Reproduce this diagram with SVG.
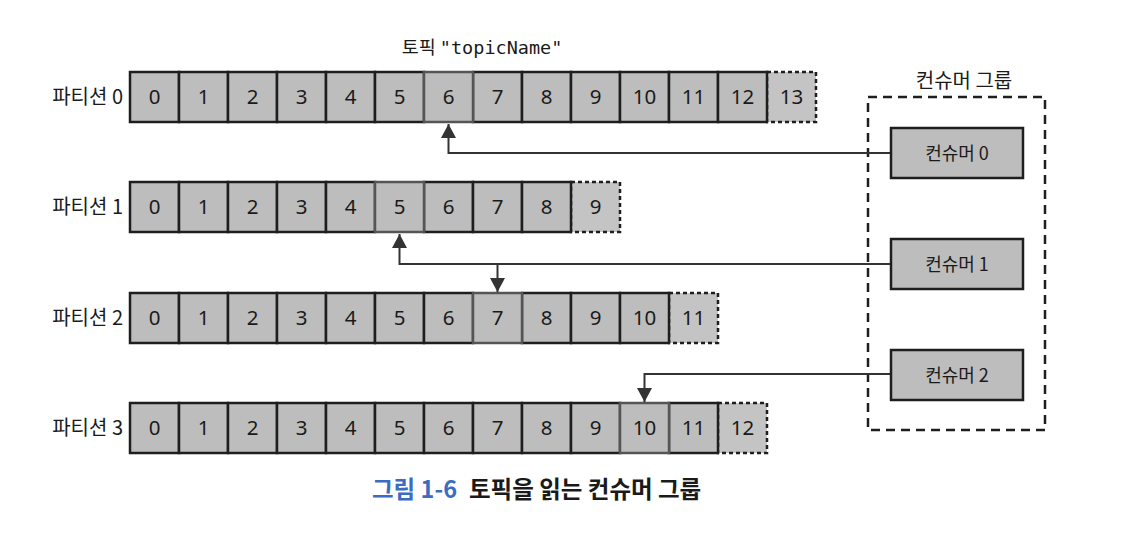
<svg xmlns="http://www.w3.org/2000/svg" width="1122" height="538" viewBox="0 0 1122 538">
<defs>
<style>
.cell{fill:#bdbdbd;stroke:#1e1e1e;stroke-width:2.5}
.hl{fill:#bdbdbd;stroke:#555;stroke-width:2.5}
.next{fill:#c4c4c4;stroke:#1e1e1e;stroke-width:2.5;stroke-dasharray:4 3}
.num{font-family:"Noto Sans","Noto Sans CJK KR",sans-serif;font-size:20.5px;fill:#1a1a1a;text-anchor:middle}
.lbl{font-family:"Noto Sans CJK KR","Noto Sans",sans-serif;font-size:20px;fill:#1a1a1a;text-anchor:end}
.cons{fill:#bdbdbd;stroke:#1e1e1e;stroke-width:2.5}
.ctxt{font-family:"Noto Sans CJK KR","Noto Sans",sans-serif;font-size:18px;fill:#1a1a1a;text-anchor:middle}
.conn{fill:none;stroke:#333;stroke-width:2}
</style>
<marker id="ah" viewBox="0 0 14 15" refX="14" refY="7.5" markerWidth="14" markerHeight="15" markerUnits="userSpaceOnUse" orient="auto">
<path d="M0,0 L14,7.5 L0,15 z" fill="#333"/>
</marker>
</defs>
<rect width="1122" height="538" fill="#fff"/>

<text x="482" y="54" font-size="18.5" fill="#1a1a1a" text-anchor="middle"><tspan font-family="Noto Sans CJK KR, sans-serif">토픽 </tspan><tspan font-family="DejaVu Sans Mono, monospace">"topicName"</tspan></text>

<g id="partition0">
<text class="lbl" x="123" y="104">파티션 0</text>
<rect class="next" x="767" y="72" width="49" height="50"/>
<rect class="cell" x="130" y="72" width="49" height="50"/>
<rect class="cell" x="179" y="72" width="49" height="50"/>
<rect class="cell" x="228" y="72" width="49" height="50"/>
<rect class="cell" x="277" y="72" width="49" height="50"/>
<rect class="cell" x="326" y="72" width="49" height="50"/>
<rect class="cell" x="375" y="72" width="49" height="50"/>
<rect class="cell" x="473" y="72" width="49" height="50"/>
<rect class="cell" x="522" y="72" width="49" height="50"/>
<rect class="cell" x="571" y="72" width="49" height="50"/>
<rect class="cell" x="620" y="72" width="49" height="50"/>
<rect class="cell" x="669" y="72" width="49" height="50"/>
<rect class="cell" x="718" y="72" width="49" height="50"/>
<rect class="hl" x="424" y="72" width="49" height="50"/>
<text class="num" x="154.5" y="104">0</text><text class="num" x="203.5" y="104">1</text><text class="num" x="252.5" y="104">2</text><text class="num" x="301.5" y="104">3</text><text class="num" x="350.5" y="104">4</text><text class="num" x="399.5" y="104">5</text><text class="num" x="448.5" y="104">6</text><text class="num" x="497.5" y="104">7</text><text class="num" x="546.5" y="104">8</text><text class="num" x="595.5" y="104">9</text><text class="num" x="644.5" y="104">10</text><text class="num" x="693.5" y="104">11</text><text class="num" x="742.5" y="104">12</text><text class="num" x="791.5" y="104">13</text>
</g>

<g id="partition1">
<text class="lbl" x="123" y="214">파티션 1</text>
<rect class="next" x="571" y="182" width="49" height="50"/>
<rect class="cell" x="130" y="182" width="49" height="50"/>
<rect class="cell" x="179" y="182" width="49" height="50"/>
<rect class="cell" x="228" y="182" width="49" height="50"/>
<rect class="cell" x="277" y="182" width="49" height="50"/>
<rect class="cell" x="326" y="182" width="49" height="50"/>
<rect class="cell" x="424" y="182" width="49" height="50"/>
<rect class="cell" x="473" y="182" width="49" height="50"/>
<rect class="cell" x="522" y="182" width="49" height="50"/>
<rect class="hl" x="375" y="182" width="49" height="50"/>
<text class="num" x="154.5" y="214">0</text><text class="num" x="203.5" y="214">1</text><text class="num" x="252.5" y="214">2</text><text class="num" x="301.5" y="214">3</text><text class="num" x="350.5" y="214">4</text><text class="num" x="399.5" y="214">5</text><text class="num" x="448.5" y="214">6</text><text class="num" x="497.5" y="214">7</text><text class="num" x="546.5" y="214">8</text><text class="num" x="595.5" y="214">9</text>
</g>

<g id="partition2">
<text class="lbl" x="123" y="325">파티션 2</text>
<rect class="next" x="669" y="293" width="49" height="50"/>
<rect class="cell" x="130" y="293" width="49" height="50"/>
<rect class="cell" x="179" y="293" width="49" height="50"/>
<rect class="cell" x="228" y="293" width="49" height="50"/>
<rect class="cell" x="277" y="293" width="49" height="50"/>
<rect class="cell" x="326" y="293" width="49" height="50"/>
<rect class="cell" x="375" y="293" width="49" height="50"/>
<rect class="cell" x="424" y="293" width="49" height="50"/>
<rect class="cell" x="522" y="293" width="49" height="50"/>
<rect class="cell" x="571" y="293" width="49" height="50"/>
<rect class="cell" x="620" y="293" width="49" height="50"/>
<rect class="hl" x="473" y="293" width="49" height="50"/>
<text class="num" x="154.5" y="325">0</text><text class="num" x="203.5" y="325">1</text><text class="num" x="252.5" y="325">2</text><text class="num" x="301.5" y="325">3</text><text class="num" x="350.5" y="325">4</text><text class="num" x="399.5" y="325">5</text><text class="num" x="448.5" y="325">6</text><text class="num" x="497.5" y="325">7</text><text class="num" x="546.5" y="325">8</text><text class="num" x="595.5" y="325">9</text><text class="num" x="644.5" y="325">10</text><text class="num" x="693.5" y="325">11</text>
</g>

<g id="partition3">
<text class="lbl" x="123" y="435">파티션 3</text>
<rect class="next" x="718" y="403" width="49" height="50"/>
<rect class="cell" x="130" y="403" width="49" height="50"/>
<rect class="cell" x="179" y="403" width="49" height="50"/>
<rect class="cell" x="228" y="403" width="49" height="50"/>
<rect class="cell" x="277" y="403" width="49" height="50"/>
<rect class="cell" x="326" y="403" width="49" height="50"/>
<rect class="cell" x="375" y="403" width="49" height="50"/>
<rect class="cell" x="424" y="403" width="49" height="50"/>
<rect class="cell" x="473" y="403" width="49" height="50"/>
<rect class="cell" x="522" y="403" width="49" height="50"/>
<rect class="cell" x="571" y="403" width="49" height="50"/>
<rect class="cell" x="669" y="403" width="49" height="50"/>
<rect class="hl" x="620" y="403" width="49" height="50"/>
<text class="num" x="154.5" y="435">0</text><text class="num" x="203.5" y="435">1</text><text class="num" x="252.5" y="435">2</text><text class="num" x="301.5" y="435">3</text><text class="num" x="350.5" y="435">4</text><text class="num" x="399.5" y="435">5</text><text class="num" x="448.5" y="435">6</text><text class="num" x="497.5" y="435">7</text><text class="num" x="546.5" y="435">8</text><text class="num" x="595.5" y="435">9</text><text class="num" x="644.5" y="435">10</text><text class="num" x="693.5" y="435">11</text><text class="num" x="742.5" y="435">12</text>
</g>

<g id="consumer-group">
<text x="964" y="88" font-family="Noto Sans CJK KR, sans-serif" font-size="20" fill="#1a1a1a" text-anchor="middle">컨슈머 그룹</text>
<rect x="868" y="97" width="177" height="333" fill="none" stroke="#1e1e1e" stroke-width="2.5" stroke-dasharray="9 6"/>
</g>

<g id="connectors">
<path class="conn" d="M891,153 H448.5 V124" marker-end="url(#ah)"/>
<path class="conn" d="M891,264 H399.5 V234" marker-end="url(#ah)"/>
<path class="conn" d="M497.5,264 V292" marker-end="url(#ah)"/>
<path class="conn" d="M891,374 H644.5 V402" marker-end="url(#ah)"/>
</g>

<g id="consumer0">
<rect class="cons" x="891" y="128" width="132" height="50"/>
<text class="ctxt" x="957" y="159.5">컨슈머 0</text>
</g>
<g id="consumer1">
<rect class="cons" x="891" y="239" width="132" height="50"/>
<text class="ctxt" x="957" y="270.5">컨슈머 1</text>
</g>
<g id="consumer2">
<rect class="cons" x="891" y="350" width="132" height="50"/>
<text class="ctxt" x="957" y="381.5">컨슈머 2</text>
</g>

<text x="372" y="498" font-family="Noto Sans CJK KR, sans-serif" font-size="23.5" font-weight="bold"><tspan fill="#3b6cc2">그림 1-6</tspan><tspan fill="#1a1a1a" dx="12">토픽을 읽는 컨슈머 그룹</tspan></text>
</svg>
